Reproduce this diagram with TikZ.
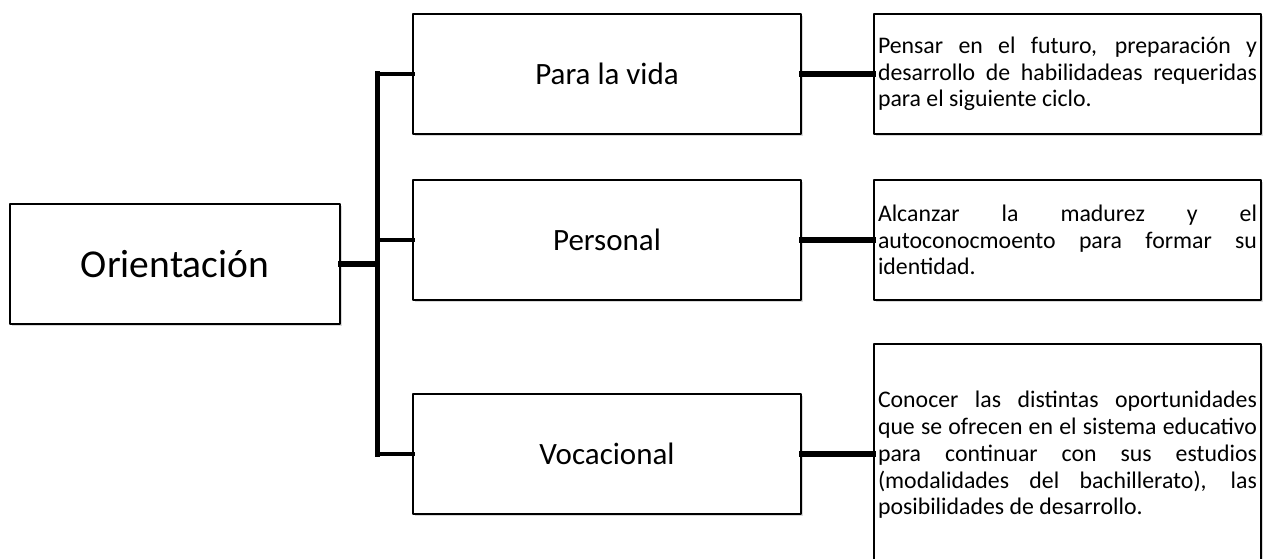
\documentclass[tikz,border=0pt]{standalone}
\usepackage{fontspec}
\setmainfont{Carlito}
\usetikzlibrary{shadows}
\begin{document}
\begin{tikzpicture}[x=1pt, y=-1pt, line join=round, line cap=rect,
	caja/.style={draw, line width=1.4pt, fill=white, inner sep=0pt, drop shadow={shadow xshift=1.5pt, shadow yshift=-2pt, opacity=0.3}},
	tema/.style={caja, minimum width=388pt, minimum height=120pt, font=\fontsize{31}{37}\selectfont},
	desc/.style={caja, inner xsep=4pt, text width=379pt, align=justify, font=\fontsize{23.8}{26.7}\selectfont},
	rama/.style={line width=4.5pt}, grueso/.style={line width=6pt}]
	\useasboundingbox (0,0) rectangle (1264,559);
	\node[caja, minimum width=330pt, minimum height=120pt, font=\fontsize{39.5}{46}\selectfont] (orient) at (175,264) {Orientación};
	\node[tema] (vida) at (607,74) {Para la vida};
	\node[tema] (personal) at (607,240) {Personal};
	\node[tema] (vocac) at (607,454) {Vocacional};
	\node[desc, minimum height=120pt] (dvida) at (1067.5,74) {Pensar en el futuro, preparación y\linebreak desarrollo de habilidadeas requeridas\linebreak para el siguiente ciclo.};
	\node[desc, minimum height=120pt] (dpers) at (1067.5,240) {Alcanzar la madurez y el\linebreak autoconocmoento para formar su\linebreak identidad.};
	\node[desc, minimum height=222pt] (dvoc) at (1067.5,455) {Conocer las distintas oportunidades\linebreak que se ofrecen en el sistema educativo\linebreak para continuar con sus estudios\linebreak (modalidades del bachillerato), las\linebreak posibilidades de desarrollo.};
	\coordinate (tronco) at (377,265);
	\draw[grueso] (orient.east) -- (orient.east -| tronco);
	\draw[line width=5pt] (vida.west -| tronco) -- (vocac.west -| tronco);
	\foreach \n in {vida,personal,vocac} \draw[rama] (\n.west -| tronco) -- (\n.west);
	\draw[grueso] (vida.east) -- (dvida.west);
	\draw[grueso] (personal.east) -- (dpers.west);
	\draw[grueso] (vocac.east) -- (vocac.east -| dvoc.west);
\end{tikzpicture}
\end{document}
